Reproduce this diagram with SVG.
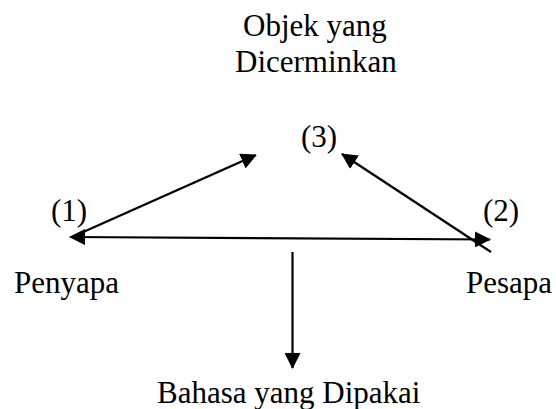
<svg xmlns="http://www.w3.org/2000/svg" width="556" height="409" viewBox="0 0 556 409">
  <style>
    .t { font-family: 'Liberation Serif', 'Tinos', 'Times New Roman', 'DejaVu Serif', serif; font-size: 31px; fill: #000; }
    .conn { stroke: #000; stroke-width: 2.2; fill: none; }
  </style>
  <defs>
    <marker id="arr" viewBox="0 0 16 16" refX="15" refY="8" markerWidth="16" markerHeight="16" markerUnits="userSpaceOnUse" orient="auto-start-reverse">
      <path d="M0,0 L16,8 L0,16 z" fill="#000"/>
    </marker>
  </defs>
  <rect width="556" height="409" fill="#fff"/>
  <g id="connectors">
    <line class="conn" x1="72" y1="237" x2="256" y2="155" marker-end="url(#arr)"/>
    <line class="conn" x1="70" y1="237" x2="490" y2="239.5" marker-start="url(#arr)" marker-end="url(#arr)"/>
    <line class="conn" x1="491" y1="252" x2="342" y2="154" marker-end="url(#arr)"/>
    <line class="conn" x1="292.5" y1="252" x2="292.5" y2="368" marker-end="url(#arr)"/>
  </g>
  <g id="objek">
    <text class="t" x="243" y="36">Objek yang</text>
    <text class="t" x="235" y="72">Dicerminkan</text>
    <text class="t" x="301" y="147">(3)</text>
  </g>
  <g id="penyapa">
    <text class="t" x="51" y="221">(1)</text>
    <text class="t" x="14" y="293">Penyapa</text>
  </g>
  <g id="pesapa">
    <text class="t" x="483" y="221">(2)</text>
    <text class="t" x="466" y="293">Pesapa</text>
  </g>
  <g id="bahasa">
    <text class="t" x="157" y="403">Bahasa yang Dipakai</text>
  </g>
</svg>
